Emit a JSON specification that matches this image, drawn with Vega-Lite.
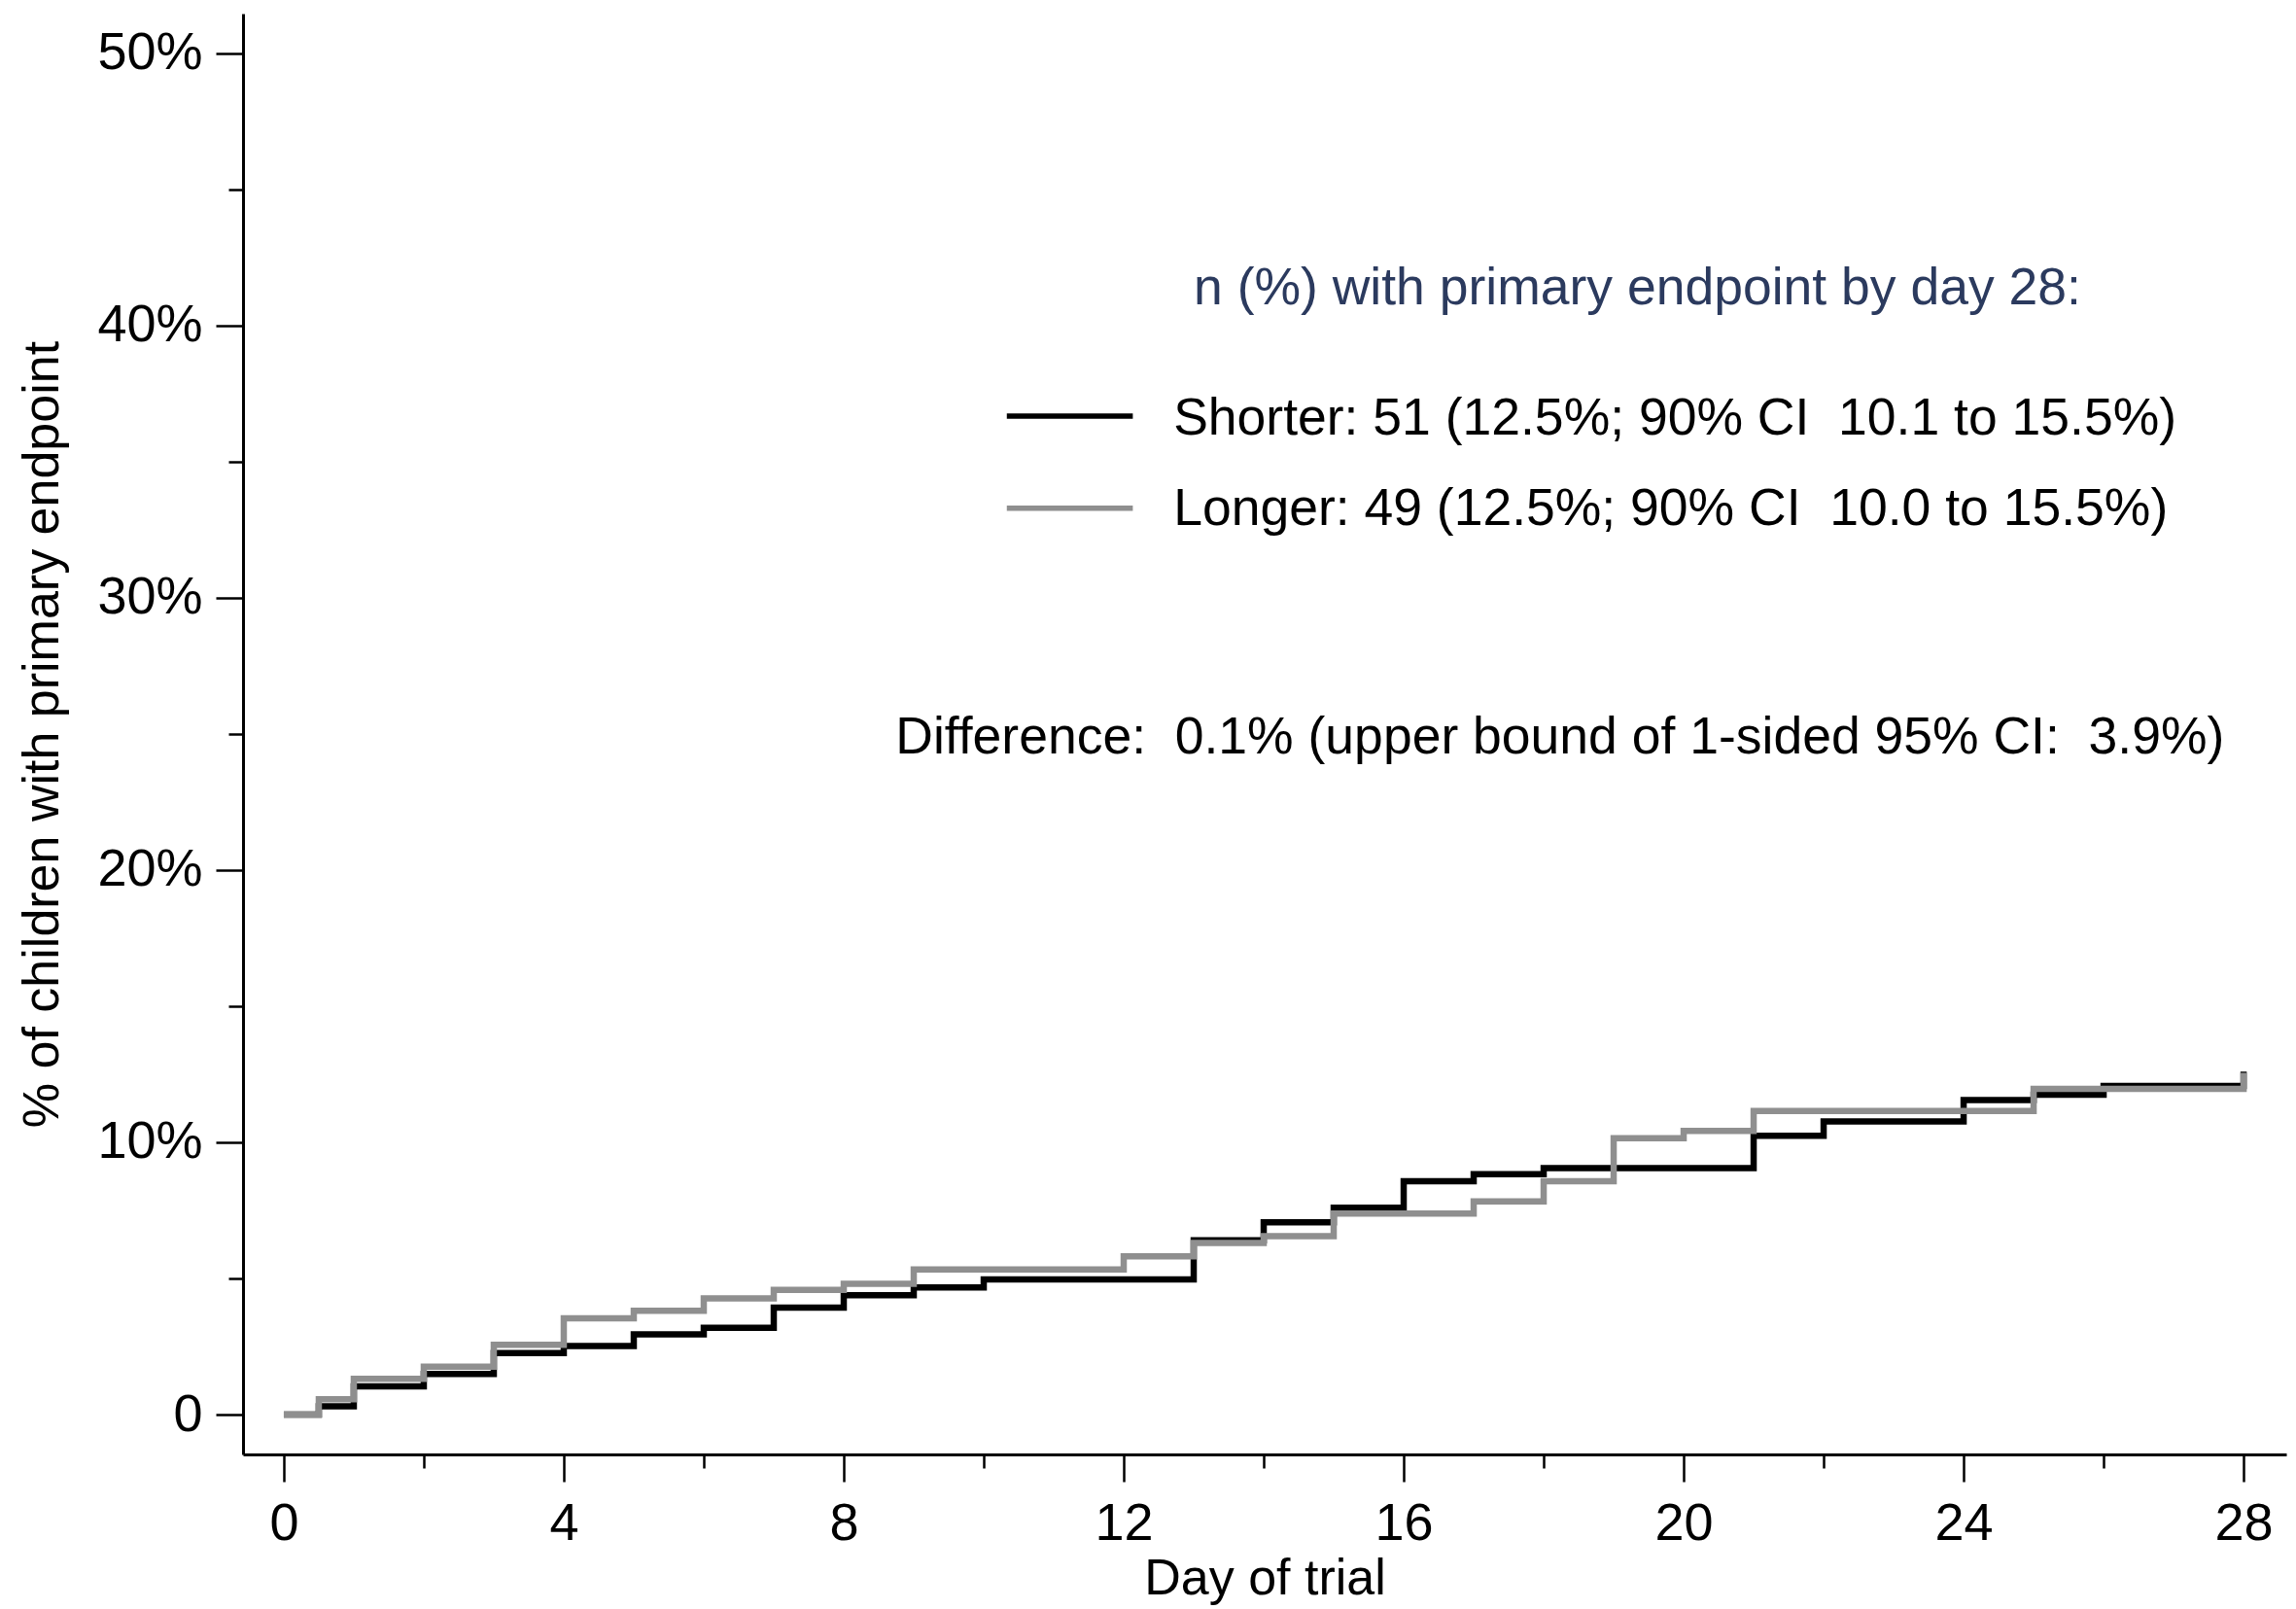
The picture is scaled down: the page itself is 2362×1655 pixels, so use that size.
{
  "$schema": "https://vega.github.io/schema/vega-lite/v6.json",
  "width": 2102,
  "height": 1482,
  "autosize": {"type": "none"},
  "padding": {"left": 250, "top": 14, "right": 10, "bottom": 159},
  "background": "white",
  "config": {
    "view": {"stroke": null},
    "font": "Liberation Sans",
    "axis": {
      "grid": false,
      "domainColor": "#000000",
      "domainWidth": 3,
      "tickColor": "#000000",
      "tickWidth": 2.5,
      "labelColor": "#000000",
      "labelFont": "Liberation Sans",
      "labelFontSize": 54,
      "titleFont": "Liberation Sans",
      "titleFontSize": 52,
      "titleFontWeight": "normal",
      "titleColor": "#000000",
      "labelOverlap": false,
      "labelFlush": false
    }
  },
  "datasets": {
    "km": [
      {"group": "Shorter", "day": 0, "pct": 0},
      {"group": "Shorter", "day": 0.5, "pct": 0.3},
      {"group": "Shorter", "day": 1, "pct": 1.04},
      {"group": "Shorter", "day": 2, "pct": 1.49},
      {"group": "Shorter", "day": 3, "pct": 2.26},
      {"group": "Shorter", "day": 4, "pct": 2.52},
      {"group": "Shorter", "day": 5, "pct": 2.95},
      {"group": "Shorter", "day": 6, "pct": 3.19},
      {"group": "Shorter", "day": 7, "pct": 3.93},
      {"group": "Shorter", "day": 8, "pct": 4.38},
      {"group": "Shorter", "day": 9, "pct": 4.67},
      {"group": "Shorter", "day": 10, "pct": 4.96},
      {"group": "Shorter", "day": 13, "pct": 6.4},
      {"group": "Shorter", "day": 14, "pct": 7.06},
      {"group": "Shorter", "day": 15, "pct": 7.6},
      {"group": "Shorter", "day": 16, "pct": 8.57},
      {"group": "Shorter", "day": 17, "pct": 8.83},
      {"group": "Shorter", "day": 18, "pct": 9.05},
      {"group": "Shorter", "day": 21, "pct": 10.24},
      {"group": "Shorter", "day": 22, "pct": 10.77},
      {"group": "Shorter", "day": 24, "pct": 11.55},
      {"group": "Shorter", "day": 25, "pct": 11.75},
      {"group": "Shorter", "day": 26, "pct": 12.07},
      {"group": "Shorter", "day": 28, "pct": 12.6},
      {"group": "Longer", "day": 0, "pct": 0},
      {"group": "Longer", "day": 0.5, "pct": 0.56},
      {"group": "Longer", "day": 1, "pct": 1.31},
      {"group": "Longer", "day": 2, "pct": 1.76},
      {"group": "Longer", "day": 3, "pct": 2.56},
      {"group": "Longer", "day": 4, "pct": 3.54},
      {"group": "Longer", "day": 5, "pct": 3.81},
      {"group": "Longer", "day": 6, "pct": 4.27},
      {"group": "Longer", "day": 7, "pct": 4.58},
      {"group": "Longer", "day": 8, "pct": 4.8},
      {"group": "Longer", "day": 9, "pct": 5.33},
      {"group": "Longer", "day": 12, "pct": 5.81},
      {"group": "Longer", "day": 13, "pct": 6.3},
      {"group": "Longer", "day": 14, "pct": 6.55},
      {"group": "Longer", "day": 15, "pct": 7.38},
      {"group": "Longer", "day": 17, "pct": 7.83},
      {"group": "Longer", "day": 18, "pct": 8.57},
      {"group": "Longer", "day": 19, "pct": 10.15},
      {"group": "Longer", "day": 20, "pct": 10.42},
      {"group": "Longer", "day": 21, "pct": 11.15},
      {"group": "Longer", "day": 25, "pct": 11.96},
      {"group": "Longer", "day": 28, "pct": 12.55}
    ]
  },
  "layer": [
    {
      "data": {"name": "km"},
      "transform": [{"filter": "datum.group === 'Shorter'"}],
      "mark": {"type": "line", "interpolate": "step-after", "color": "#000000", "strokeWidth": 6.5, "strokeJoin": "miter", "strokeCap": "butt"},
      "encoding": {
        "x": {
          "field": "day", "type": "quantitative",
          "scale": {"domain": [-0.583, 28.61], "nice": false, "zero": false},
          "axis": {
            "title": "Day of trial",
            "values": [0, 2, 4, 6, 8, 10, 12, 14, 16, 18, 20, 22, 24, 26, 28],
            "labelExpr": "datum.value % 4 === 0 ? '' + datum.value : ''",
            "tickSize": {"condition": {"test": "datum.value % 4 === 0", "value": 28}, "value": 14},
            "labelPadding": 16,
            "titlePadding": 4
          }
        },
        "y": {
          "field": "pct", "type": "quantitative",
          "scale": {"domain": [-1.464, 51.46], "nice": false, "zero": false},
          "axis": {
            "title": "% of children with primary endpoint",
            "values": [0, 5, 10, 15, 20, 25, 30, 35, 40, 45, 50],
            "labelExpr": "datum.value === 0 ? '0' : (datum.value % 10 === 0 ? datum.value + '%' : '')",
            "tickSize": {"condition": {"test": "datum.value % 10 === 0", "value": 28}, "value": 15},
            "labelPadding": 14,
            "titlePadding": 29
          }
        }
      }
    },
    {
      "data": {"name": "km"},
      "transform": [{"filter": "datum.group === 'Longer'"}],
      "mark": {"type": "line", "interpolate": "step-after", "color": "#8f8f8f", "strokeWidth": 6.5, "strokeJoin": "miter", "strokeCap": "butt"},
      "encoding": {
        "x": {"field": "day", "type": "quantitative"},
        "y": {"field": "pct", "type": "quantitative"}
      }
    },
    {
      "data": {"values": [{"t": "n (%) with primary endpoint by day 28:"}]},
      "mark": {"type": "text", "align": "left", "baseline": "alphabetic", "fontSize": 53.5, "color": "#2b3a5e", "font": "Liberation Sans"},
      "encoding": {
        "x": {"datum": 13.0, "type": "quantitative"},
        "y": {"datum": 40.8, "type": "quantitative"},
        "text": {"field": "t"}
      }
    },
    {
      "data": {"values": [{"t": "Shorter: 51 (12.5%; 90% CI\u00a0 10.1 to 15.5%)"}]},
      "mark": {"type": "text", "align": "left", "baseline": "alphabetic", "fontSize": 53.5, "color": "#000000", "font": "Liberation Sans"},
      "encoding": {
        "x": {"datum": 12.71, "type": "quantitative"},
        "y": {"datum": 36.0, "type": "quantitative"},
        "text": {"field": "t"}
      }
    },
    {
      "data": {"values": [{"t": "Longer: 49 (12.5%; 90% CI\u00a0 10.0 to 15.5%)"}]},
      "mark": {"type": "text", "align": "left", "baseline": "alphabetic", "fontSize": 53.5, "color": "#000000", "font": "Liberation Sans"},
      "encoding": {
        "x": {"datum": 12.71, "type": "quantitative"},
        "y": {"datum": 32.68, "type": "quantitative"},
        "text": {"field": "t"}
      }
    },
    {
      "data": {"values": [{"t": "Difference:\u00a0 0.1% (upper bound of 1-sided 95% CI:\u00a0 3.9%)"}]},
      "mark": {"type": "text", "align": "left", "baseline": "alphabetic", "fontSize": 53.5, "color": "#000000", "font": "Liberation Sans"},
      "encoding": {
        "x": {"datum": 8.74, "type": "quantitative"},
        "y": {"datum": 24.29, "type": "quantitative"},
        "text": {"field": "t"}
      }
    },
    {
      "data": {"values": [{"s": "Shorter"}]},
      "mark": {"type": "rule", "color": "#000000", "strokeWidth": 5.5},
      "encoding": {
        "x": {"datum": 10.33, "type": "quantitative"},
        "x2": {"datum": 12.13},
        "y": {"datum": 36.68, "type": "quantitative"}
      }
    },
    {
      "data": {"values": [{"s": "Longer"}]},
      "mark": {"type": "rule", "color": "#8f8f8f", "strokeWidth": 5.5},
      "encoding": {
        "x": {"datum": 10.33, "type": "quantitative"},
        "x2": {"datum": 12.13},
        "y": {"datum": 33.29, "type": "quantitative"}
      }
    }
  ]
}
